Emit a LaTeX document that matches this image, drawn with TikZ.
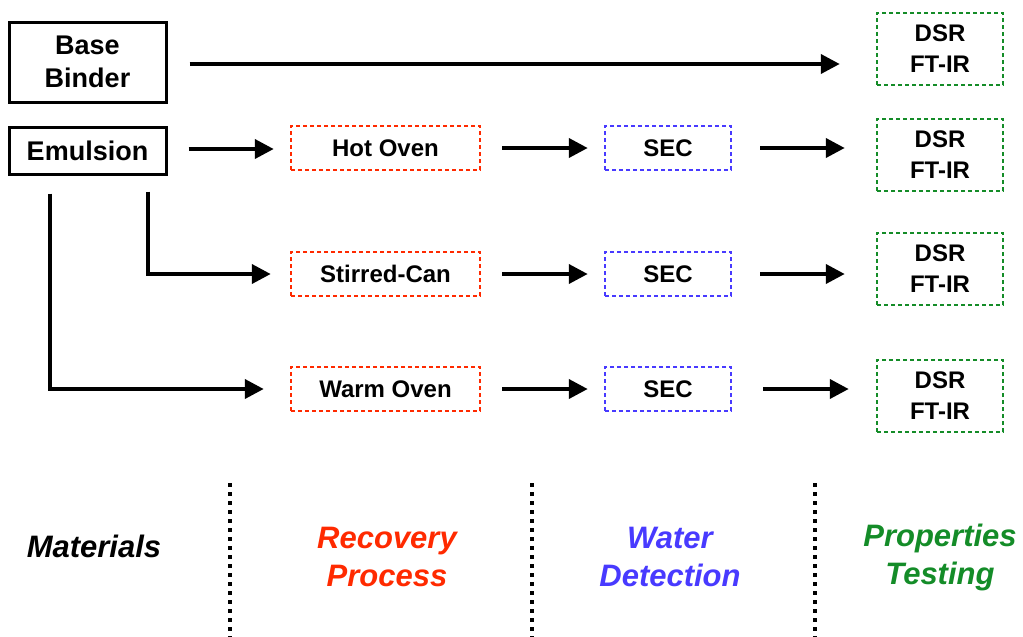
\documentclass[tikz,border=0pt]{standalone}
\usepackage{fontspec}
\setmainfont{Liberation Sans}
\usetikzlibrary{arrows.meta,calc}
\definecolor{cred}{RGB}{255,42,0}
\definecolor{cblue}{RGB}{72,58,255}
\definecolor{cgreen}{RGB}{20,140,40}
\tikzset{
  matbox/.style={draw=black, line width=3pt, minimum width=157pt, align=center, font=\fontsize{27}{33}\selectfont\bfseries, inner sep=0pt},
  procbox/.style={draw=#1, line width=2.5pt, dash pattern=on 4pt off 3pt, align=center, font=\fontsize{24}{31}\selectfont\bfseries, inner sep=0pt},
  arr/.style={line width=4pt, -{Triangle[length=19pt,width=19pt]}},
  sep/.style={line width=4pt, dash pattern=on 4pt off 5pt},
  lab/.style={align=center, font=\fontsize{31}{38}\selectfont\bfseries\itshape}
}
\begin{document}
\begin{tikzpicture}[x=1pt,y=-1pt]
\useasboundingbox (0,0) rectangle (1023,637);
% materials
\node[matbox, minimum height=80pt] (base) at (87.5,62) {Base\\Binder};
\node[matbox, minimum height=47pt] (emul) at (87.5,150.5) {Emulsion};
% recovery
\node[procbox=cred, minimum width=189pt, minimum height=44pt] (hot) at (385.5,148) {Hot Oven};
\node[procbox=cred, minimum width=189pt, minimum height=44pt] (stir) at (385.5,274) {Stirred-Can};
\node[procbox=cred, minimum width=189pt, minimum height=44pt] (warm) at (385.5,389) {Warm Oven};
% water detection
\node[procbox=cblue, minimum width=126pt, minimum height=44pt] (sec1) at (668,148) {SEC};
\node[procbox=cblue, minimum width=126pt, minimum height=44pt] (sec2) at (668,274) {SEC};
\node[procbox=cblue, minimum width=126pt, minimum height=44pt] (sec3) at (668,389) {SEC};
% testing
\node[procbox=cgreen, minimum width=126pt, minimum height=72pt] (dsr1) at (940,49) {DSR\\FT-IR};
\node[procbox=cgreen, minimum width=126pt, minimum height=72pt] (dsr2) at (940,155) {DSR\\FT-IR};
\node[procbox=cgreen, minimum width=126pt, minimum height=72pt] (dsr3) at (940,269) {DSR\\FT-IR};
\node[procbox=cgreen, minimum width=126pt, minimum height=72pt] (dsr4) at (940,396) {DSR\\FT-IR};
% connectors
\draw[arr, shorten <=22pt, shorten >=36pt] ([yshift=-2pt]base.east) -- ([yshift=-2pt]base.east -| dsr1.west);
\draw[arr, shorten <=21pt, shorten >=16pt] ([yshift=1.5pt]emul.east) -- ([yshift=1.5pt]emul.east -| hot.west);
\draw[arr, shorten <=21pt, shorten >=16pt] (hot.east) -- (sec1.west);
\draw[arr, shorten <=28pt, shorten >=31pt] (sec1.east) -- (sec1.east -| dsr2.west);
\draw[arr, shorten <=16pt, shorten >=19pt] ([xshift=-20pt]emul.south east) |- (stir.west);
\draw[arr, shorten <=21pt, shorten >=16pt] (stir.east) -- (sec2.west);
\draw[arr, shorten <=28pt, shorten >=31pt] (sec2.east) -- (sec2.east -| dsr3.west);
\draw[arr, shorten <=18pt, shorten >=26pt] ([xshift=42pt]emul.south west) |- (warm.west);
\draw[arr, shorten <=21pt, shorten >=16pt] (warm.east) -- (sec3.west);
\draw[arr, shorten <=31pt, shorten >=27pt] (sec3.east) -- (sec3.east -| dsr4.west);
% separators
\draw[sep] (230,483) -- (230,637);
\draw[sep] (532,483) -- (532,637);
\draw[sep] (815,483) -- (815,637);
% column labels
\node[lab, text=black] (lmat) at (94,546) {Materials};
\node[lab, text=cred] (lrec) at (387,557) {Recovery\\Process};
\node[lab, text=cblue] (lwat) at (670,557) {Water\\Detection};
\node[lab, text=cgreen] (lpro) at (940,557) {Properties\\Testing};
\end{tikzpicture}
\end{document}
